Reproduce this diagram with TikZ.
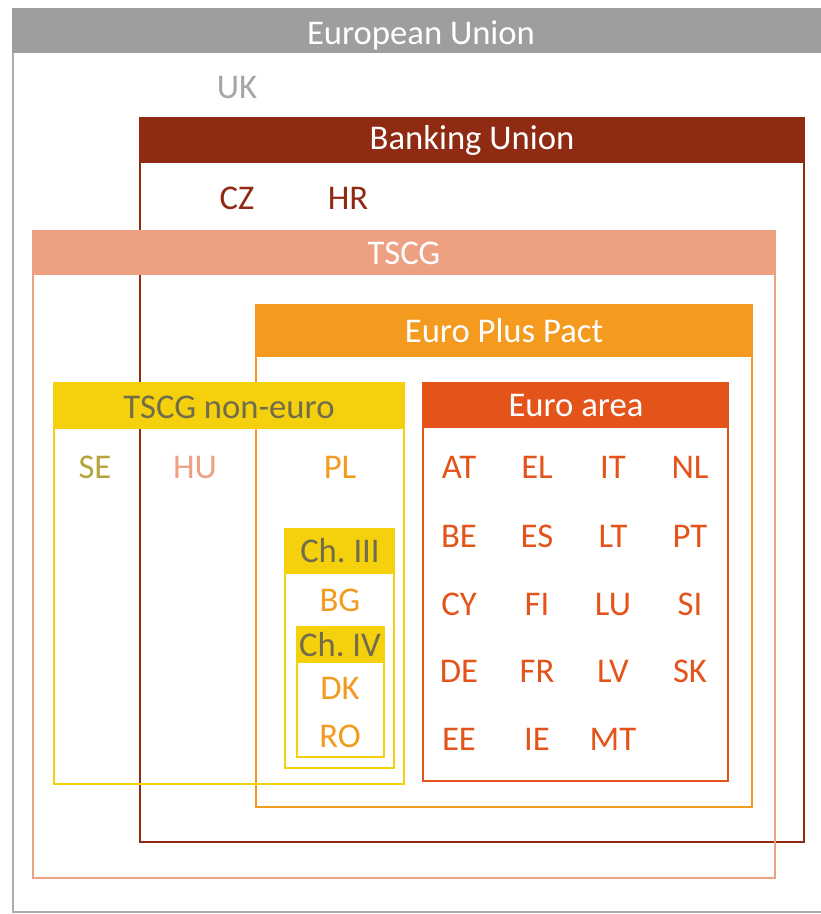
\documentclass[tikz,border=0pt]{standalone}
\usepackage{fontspec}
\setmainfont{Carlito}
\definecolor{eugrey}{HTML}{9E9E9E}
\definecolor{ukgrey}{HTML}{A6A6A6}
\definecolor{burust}{HTML}{8F2A13}
\definecolor{tscgsalmon}{HTML}{EEA083}
\definecolor{epporange}{HTML}{F39A1F}
\definecolor{neyellow}{HTML}{F5D10D}
\definecolor{neolive}{HTML}{B4A43C}
\definecolor{chgrey}{HTML}{706C4C}
\definecolor{eaorange}{HTML}{E4531A}

\tikzset{
  frame/.style={line width=2.2pt},
  head/.style={text=white,text height=16.7pt,text depth=0pt,inner sep=0pt},
  code/.style={text height=16.7pt,text depth=0pt,inner sep=0pt},
}

\begin{document}
\begin{tikzpicture}[x=0.75pt,y=-0.75pt,font=\fontsize{26}{30}\selectfont]
        \useasboundingbox (0,0) rectangle (821,914);

        \draw[frame,eugrey!85] (13,9) rectangle (829,912);
        \filldraw[frame,eugrey] (13,9) rectangle (829,52);

        \draw[frame,burust] (140,118) rectangle (804,842);
        \filldraw[frame,burust] (140,118) rectangle (804,162);

        \draw[frame,tscgsalmon] (33,231) rectangle (775,878);
        \filldraw[frame,tscgsalmon] (33,231) rectangle (775,274);

        \draw[frame,epporange] (256,305) rectangle (752,807);
        \filldraw[frame,epporange] (256,305) rectangle (752,356);

        \draw[frame,neyellow] (54,383) rectangle (404,784);
        \filldraw[frame,neyellow] (54,383) rectangle (404,428);

        \draw[frame,eaorange] (423,383) rectangle (728,781);
        \filldraw[frame,eaorange] (423,383) rectangle (728,427);

        \draw[frame,neyellow] (285,529) rectangle (394,768);
        \filldraw[frame,neyellow] (285,529) rectangle (394,573);
        \draw[frame,neyellow] (297,627) rectangle (384,757);
        \filldraw[frame,neyellow] (297,627) rectangle (384,662);

        \node[head] (euhead) at (421,33) {European Union};
        \node[head] (buhead) at (472,138) {Banking Union};
        \node[head] (tscghead) at (404,253) {TSCG};
        \node[head] (epphead) at (504,331) {Euro Plus Pact};
        \node[head,text=chgrey] (nehead) at (229,407) {TSCG non-euro};
        \node[head] (eahead) at (576,405) {Euro area};
        \node[head,text=chgrey] (ch3head) at (340,551) {Ch.\ III};
        \node[head,text=chgrey] (ch4head) at (340,645) {Ch.\ IV};

        \node[code,ukgrey] (uk) at (237,87) {UK};
        \node[code,burust] (cz) at (237,198) {CZ};
        \node[code,burust] (hr) at (348,198) {HR};

        \node[code,neolive] (se) at (95,467) {SE};
        \node[code,tscgsalmon] (hu) at (195,467) {HU};
        \node[code,epporange] (pl) at (340,467) {PL};
        \node[code,epporange] (bg) at (340,600) {BG};
        \node[code,epporange] (dk) at (340,688) {DK};
        \node[code,epporange] (ro) at (340,736) {RO};

        \node[code,eaorange] (at) at (459,467) {AT};
        \node[code,eaorange] (el) at (537,467) {EL};
        \node[code,eaorange] (it) at (613,467) {IT};
        \node[code,eaorange] (nl) at (690,467) {NL};
        \node[code,eaorange] (be) at (459,536) {BE};
        \node[code,eaorange] (es) at (537,536) {ES};
        \node[code,eaorange] (lt) at (613,536) {LT};
        \node[code,eaorange] (pt) at (690,536) {PT};
        \node[code,eaorange] (cy) at (459,604) {CY};
        \node[code,eaorange] (fi) at (537,604) {FI};
        \node[code,eaorange] (lu) at (613,604) {LU};
        \node[code,eaorange] (si) at (690,604) {SI};
        \node[code,eaorange] (de) at (459,671) {DE};
        \node[code,eaorange] (fr) at (537,671) {FR};
        \node[code,eaorange] (lv) at (613,671) {LV};
        \node[code,eaorange] (sk) at (690,671) {SK};
        \node[code,eaorange] (ee) at (459,739) {EE};
        \node[code,eaorange] (ie) at (537,739) {IE};
        \node[code,eaorange] (mt) at (613,739) {MT};
\end{tikzpicture}
\end{document}
